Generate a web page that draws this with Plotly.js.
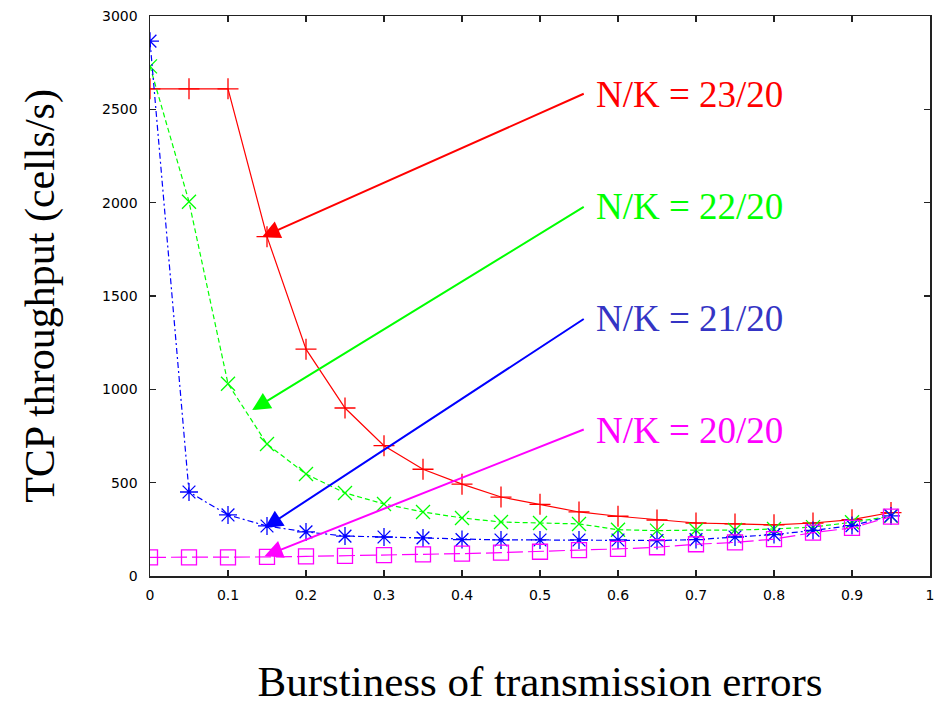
<!DOCTYPE html>
<html>
<head>
<meta charset="utf-8">
<script src="https://cdn.plot.ly/plotly-3.0.1.min.js"></script>
<style>html,body{margin:0;padding:0;background:#fff;}#chart{width:938px;height:705px;}</style>
</head>
<body>
<div id="chart"></div>
<script>
// Burstiness of transmission errors (x)
const burstiness = [0, 0.05, 0.1, 0.15, 0.2, 0.25, 0.3, 0.35, 0.4, 0.45, 0.5, 0.55, 0.6, 0.65, 0.7, 0.75, 0.8, 0.85, 0.9, 0.95];
// TCP throughput (cells/s)
const nk23 = [2610, 2610, 2610, 1818, 1215, 900, 698, 572, 492, 423, 384, 343, 320, 300, 284, 279, 274, 284, 302, 340];
const nk22 = [2730, 2005, 1030, 707, 546, 445, 386, 343, 311, 289, 284, 279, 248, 243, 246, 246, 252, 262, 288, 321];
const nk21 = [2865, 450, 327, 268, 236, 214, 209, 204, 195, 193, 193, 193, 193, 190, 195, 209, 222, 244, 270, 322];
const nk20 = [100, 100, 100, 102, 105, 108, 112, 116, 120, 125, 130, 139, 145, 154, 170, 180, 198, 232, 258, 318];
const seriesLabels = ['N/K = 23/20', 'N/K = 22/20', 'N/K = 21/20', 'N/K = 20/20'];
const xTitle = 'Burstiness of transmission errors';
const yTitle = 'TCP throughput (cells/s)';
// arrow tips (data coords) and text anchor positions
const arrowTipX = [0.1436, 0.131, 0.147, 0.147];
const arrowTipY = [1816, 889, 257, 107];
const arrowTailX = [0.558, 0.558, 0.558, 0.558];
const arrowTailY = [2587, 1982, 1382, 788];
const labelX = [0.569, 0.569, 0.569, 0.569];
const labelY = [2577, 1977, 1382, 782];

const colors = ['#ff0000', '#00ff00', '#0000ff', '#ff00ff'];
const textColors = ['#ff0000', '#00ff00', '#3434c4', '#ff00ff'];
const serif = "'Liberation Serif', 'Times New Roman', Times, serif";

const traces = [
  {x: burstiness, y: nk23, mode: 'lines+markers', line: {color: colors[0], width: 1.2},
   marker: {symbol: 'cross-thin', size: 15, line: {color: colors[0], width: 1.3}}},
  {x: burstiness, y: nk22, mode: 'lines+markers', line: {color: colors[1], width: 1.2, dash: '5px,3px'},
   marker: {symbol: 'x-thin', size: 14, line: {color: colors[1], width: 1.3}}},
  {x: burstiness, y: nk21, mode: 'lines+markers', line: {color: colors[2], width: 1.2, dash: '6px,3px,2px,3px'},
   marker: {symbol: 'asterisk', size: 15, line: {color: colors[2], width: 1.3}}},
  {x: burstiness, y: nk20, mode: 'lines+markers', line: {color: colors[3], width: 1.2, dash: '16px,5px'},
   marker: {symbol: 'square-open', size: 15, color: colors[3], line: {color: colors[3], width: 1.3}}}
];
traces.forEach((t, i) => { t.name = seriesLabels[i]; t.hoverinfo = 'skip'; });

const annotations = [];
for (let i = 0; i < 4; i++) {
  annotations.push({
    x: arrowTipX[i], y: arrowTipY[i], xref: 'x', yref: 'y',
    ax: arrowTailX[i], ay: arrowTailY[i], axref: 'x', ayref: 'y',
    text: '', showarrow: true, arrowhead: 2, arrowsize: 1.8, arrowwidth: 2,
    arrowcolor: colors[i], standoff: 0, startstandoff: 0
  });
  annotations.push({
    x: labelX[i], y: labelY[i], xref: 'x', yref: 'y', xanchor: 'left', yanchor: 'middle',
    text: seriesLabels[i], showarrow: false,
    font: {family: serif, size: 37, color: textColors[i]}
  });
}

const axisCommon = {
  showline: true, linecolor: '#222', linewidth: 1.5, mirror: 'ticks',
  ticks: 'inside', ticklen: 6, tickwidth: 1.2, tickcolor: '#222',
  showgrid: false, zeroline: false,
  tickfont: {family: 'DejaVu Sans, Arial, sans-serif', size: 14, color: '#000'}
};

const layout = {
  width: 938, height: 705,
  margin: {l: 150, r: 8, t: 16, b: 129},
  paper_bgcolor: '#fff', plot_bgcolor: '#fff',
  showlegend: false,
  xaxis: Object.assign({}, axisCommon, {
    range: [0, 1], dtick: 0.1, tick0: 0, ticklabelstandoff: 6,
    title: {text: xTitle, font: {family: serif, size: 43, color: '#000'}, standoff: 68}
  }),
  yaxis: Object.assign({}, axisCommon, {
    range: [0, 3000], dtick: 500, tick0: 0, ticklabelstandoff: 8,
    title: {text: yTitle, font: {family: serif, size: 42, color: '#000'}, standoff: 34}
  }),
  annotations: annotations
};

Plotly.newPlot('chart', traces, layout, {displayModeBar: false, staticPlot: true});
</script>
</body>
</html>
